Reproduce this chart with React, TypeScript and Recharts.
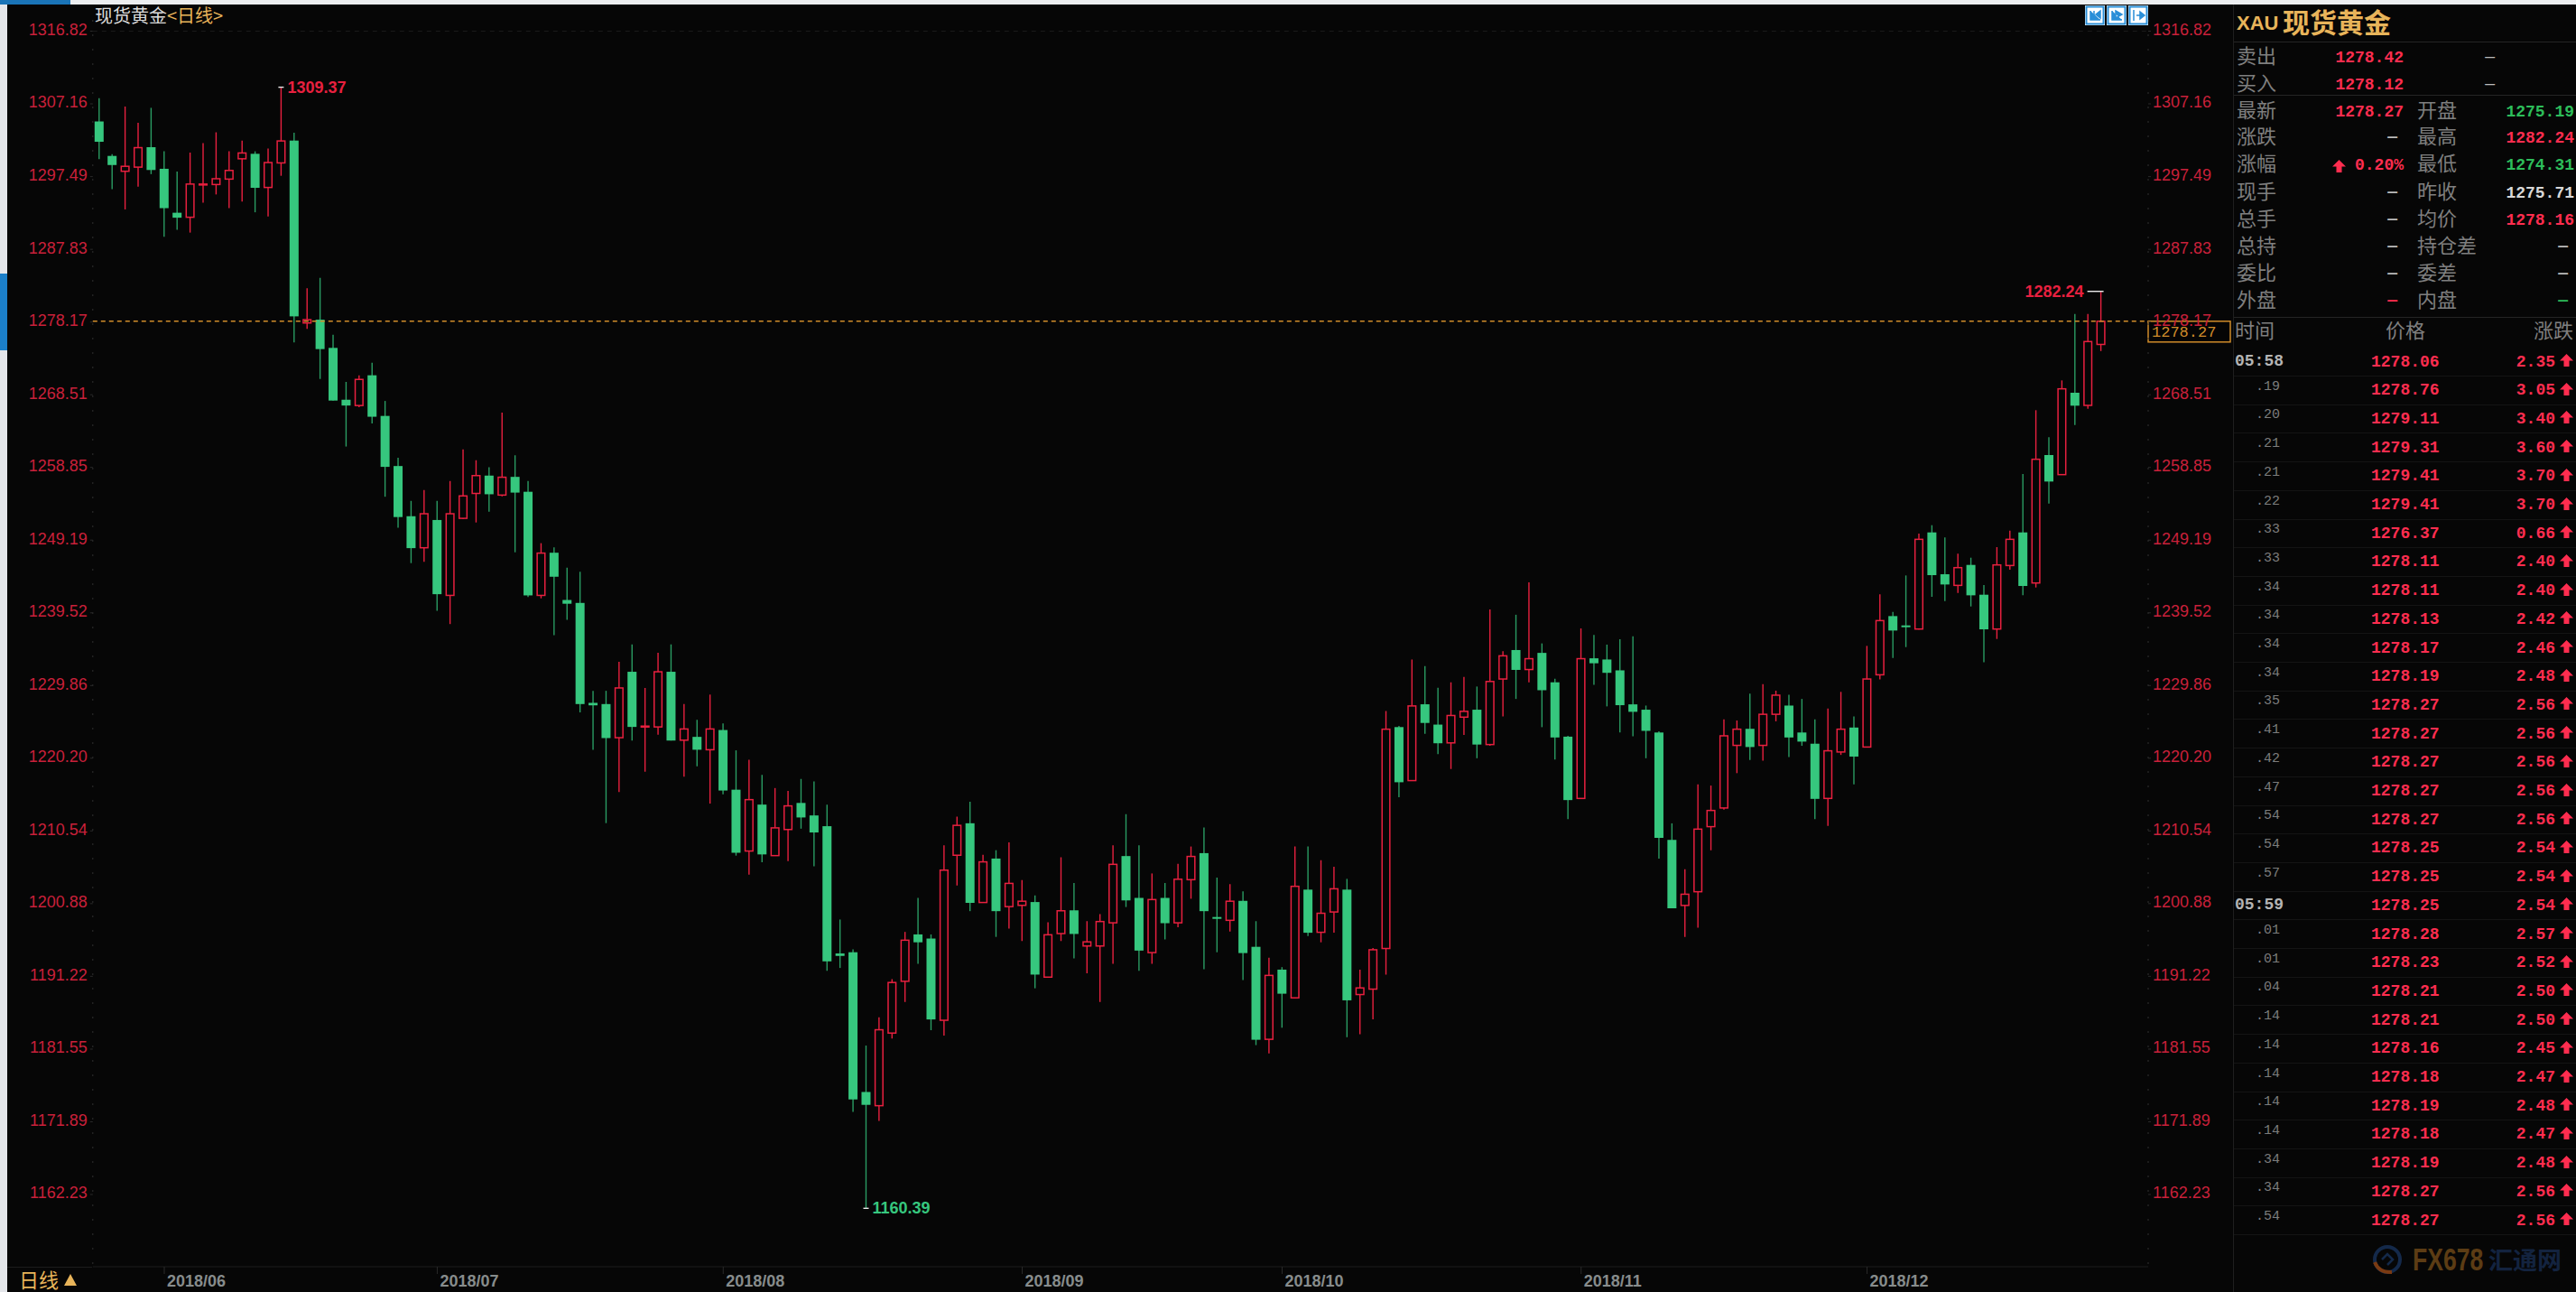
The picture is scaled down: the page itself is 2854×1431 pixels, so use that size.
import { Bar, ComposedChart, Line, ReferenceLine, XAxis, YAxis } from "recharts";

const dates = [
  "2018/05/25", "2018/05/28", "2018/05/29", "2018/05/30", "2018/05/31",
  "2018/06/01", "2018/06/04", "2018/06/05", "2018/06/06", "2018/06/07", "2018/06/08", "2018/06/11", "2018/06/12", "2018/06/13", "2018/06/14", "2018/06/15",
  "2018/06/18", "2018/06/19", "2018/06/20", "2018/06/21", "2018/06/22", "2018/06/25", "2018/06/26", "2018/06/27", "2018/06/28", "2018/06/29",
  "2018/07/02", "2018/07/03", "2018/07/04", "2018/07/05", "2018/07/06", "2018/07/09", "2018/07/10", "2018/07/11", "2018/07/12", "2018/07/13", "2018/07/16",
  "2018/07/17", "2018/07/18", "2018/07/19", "2018/07/20", "2018/07/23", "2018/07/24", "2018/07/25", "2018/07/26", "2018/07/27", "2018/07/30", "2018/07/31",
  "2018/08/01", "2018/08/02", "2018/08/03", "2018/08/06", "2018/08/07", "2018/08/08", "2018/08/09", "2018/08/10", "2018/08/13", "2018/08/14", "2018/08/15", "2018/08/16",
  "2018/08/17", "2018/08/20", "2018/08/21", "2018/08/22", "2018/08/23", "2018/08/24", "2018/08/27", "2018/08/28", "2018/08/29", "2018/08/30", "2018/08/31",
  "2018/09/03", "2018/09/04", "2018/09/05", "2018/09/06", "2018/09/07", "2018/09/10", "2018/09/11", "2018/09/12", "2018/09/13", "2018/09/14",
  "2018/09/17", "2018/09/18", "2018/09/19", "2018/09/20", "2018/09/21", "2018/09/24", "2018/09/25", "2018/09/26", "2018/09/27", "2018/09/28",
  "2018/10/01", "2018/10/02", "2018/10/03", "2018/10/04", "2018/10/05", "2018/10/08", "2018/10/09", "2018/10/10", "2018/10/11", "2018/10/12", "2018/10/15", "2018/10/16",
  "2018/10/17", "2018/10/18", "2018/10/19", "2018/10/22", "2018/10/23", "2018/10/24", "2018/10/25", "2018/10/26", "2018/10/29", "2018/10/30", "2018/10/31",
  "2018/11/01", "2018/11/02", "2018/11/05", "2018/11/06", "2018/11/07", "2018/11/08", "2018/11/09", "2018/11/12", "2018/11/13", "2018/11/14", "2018/11/15",
  "2018/11/16", "2018/11/19", "2018/11/20", "2018/11/21", "2018/11/22", "2018/11/23", "2018/11/26", "2018/11/27", "2018/11/28", "2018/11/29", "2018/11/30",
  "2018/12/03", "2018/12/04", "2018/12/05", "2018/12/06", "2018/12/07", "2018/12/10", "2018/12/11", "2018/12/12", "2018/12/13", "2018/12/14",
  "2018/12/17", "2018/12/18", "2018/12/19", "2018/12/20", "2018/12/21", "2018/12/24", "2018/12/25", "2018/12/26", "2018/12/27",
];

const opens = [
  1304.82, 1300.24, 1298.2, 1298.75, 1301.4, 1298.53, 1292.69, 1292.09, 1296.44, 1296.44, 1297.16, 1299.86, 1300.52, 1296.05, 1299.31, 1302.28,
  1278.04, 1278.48, 1274.73, 1267.84, 1267.07, 1271.09, 1265.69, 1259.03, 1252.36, 1248.17, 1251.86, 1241.84, 1252.08, 1255.39, 1257.76, 1255.17,
  1257.59, 1255.61, 1241.84, 1247.51, 1241.23, 1240.84, 1227.56, 1227.4, 1222.93, 1231.69, 1224.36, 1224.36, 1231.69, 1222.6, 1223.04, 1221.33,
  1223.95, 1216.02, 1207.87, 1214.04, 1207.26, 1210.73, 1214.26, 1212.6, 1211.17, 1194.26, 1194.42, 1175.85, 1174.03, 1183.68, 1190.56, 1196.79,
  1196.24, 1185.38, 1207.31, 1211.56, 1201.03, 1206.87, 1200.48, 1200.65, 1201.09, 1191.11, 1196.9, 1199.99, 1195.25, 1195.25, 1198.33, 1207.2,
  1201.64, 1194.37, 1201.64, 1198.33, 1204.06, 1207.59, 1199.1, 1198.66, 1201.25, 1195.14, 1182.85, 1192.11, 1188.36, 1202.74, 1197.07, 1199.77,
  1202.74, 1188.8, 1189.52, 1194.92, 1224.34, 1217.23, 1227.37, 1224.67, 1222.24, 1225.66, 1226.65, 1222.02, 1230.73, 1234.58, 1231.99, 1234.2,
  1230.29, 1223.07, 1214.86, 1233.48, 1233.32, 1231.88, 1227.36, 1226.65, 1223.62, 1209.35, 1200.64, 1202.46, 1211.11, 1213.59, 1221.91, 1224.11,
  1221.91, 1226.04, 1227.2, 1223.62, 1222.13, 1214.86, 1221.03, 1224.28, 1221.69, 1231.29, 1239.09, 1237.85, 1237.37, 1250.21, 1244.65, 1243.17,
  1245.89, 1241.93, 1237.37, 1245.81, 1250.21, 1243.49, 1260.49, 1257.89, 1268.77, 1267.09, 1275.19,
];
const highs = [
  1307.9, 1300.46, 1306.8, 1304.65, 1306.63, 1300.85, 1298.15, 1300.68, 1301.95, 1303.38, 1300.85, 1302.28, 1300.85, 1301.23, 1309.37, 1303.33,
  1282.67, 1284.04, 1276.49, 1270.21, 1271.09, 1272.75, 1267.68, 1260.13, 1254.4, 1255.83, 1254.4, 1257.04, 1261.23, 1259.8, 1258.86, 1266.14,
  1260.46, 1257.04, 1248.78, 1248.23, 1245.53, 1244.98, 1229.16, 1229.16, 1233.02, 1235.33, 1229.54, 1234.23, 1235.33, 1227.4, 1225.3, 1228.66,
  1224.84, 1221.25, 1219.99, 1218, 1216.24, 1215.85, 1217.45, 1217.12, 1214.04, 1198.77, 1194.81, 1182.02, 1185.77, 1190.84, 1197.12, 1201.64,
  1196.79, 1208.64, 1212.44, 1214.42, 1207.37, 1207.98, 1209.02, 1204.01, 1201.97, 1198.39, 1207.04, 1203.62, 1198.55, 1199.49, 1208.64, 1212.77,
  1208.64, 1204.89, 1203.62, 1206.16, 1208.47, 1211.01, 1204.34, 1203.46, 1202.52, 1198.55, 1193.7, 1192.44, 1208.47, 1208.47, 1206.65, 1205.77,
  1204.17, 1192.11, 1194.97, 1226.49, 1224.51, 1233.32, 1232.44, 1229.57, 1230.29, 1231, 1229.73, 1239.98, 1234.42, 1239.27, 1243.56, 1235.46,
  1230.78, 1223.18, 1237.45, 1236.57, 1235.3, 1236.02, 1236.4, 1227.2, 1223.78, 1211.55, 1205.44, 1216.73, 1216.57, 1225.38, 1225.22, 1228.8,
  1230.06, 1229.18, 1228.63, 1228.08, 1225.38, 1226.81, 1229.02, 1225.77, 1235.13, 1241.97, 1239.65, 1244.49, 1250.05, 1251.17, 1249.53, 1247.37,
  1246.85, 1243.21, 1248.25, 1250.45, 1257.97, 1266.45, 1262.85, 1270.41, 1279.25, 1279.25, 1282.24,
];
const lows = [
  1299.8, 1295.83, 1293.13, 1296.16, 1297.82, 1289.5, 1290.43, 1290.05, 1294.02, 1295.12, 1293.3, 1294.18, 1292.75, 1292.2, 1297.6, 1275.45,
  1277.27, 1270.6, 1267.73, 1261.62, 1266.85, 1264.7, 1254.95, 1250.82, 1246.13, 1246.3, 1239.8, 1238.03, 1251.97, 1251.53, 1252.97, 1255.01,
  1247.57, 1241.62, 1241.45, 1236.55, 1238.59, 1226.29, 1221.33, 1211.58, 1215.71, 1222.55, 1218.41, 1223.32, 1222.55, 1217.75, 1219.13, 1214.17,
  1215.4, 1207.26, 1204.72, 1206.38, 1207.26, 1206.54, 1210.84, 1205.83, 1191.94, 1192.33, 1173.21, 1160.39, 1172, 1182.96, 1187.81, 1192.88,
  1184.06, 1183.35, 1203.29, 1199.88, 1200.98, 1196.46, 1197.56, 1195.91, 1189.63, 1191.06, 1195.91, 1193.59, 1191.61, 1187.81, 1192.88, 1200.43,
  1191.94, 1192.88, 1196.13, 1197.73, 1201.53, 1192.16, 1194.42, 1197.18, 1190.73, 1182.08, 1180.98, 1184.39, 1188.3, 1196.57, 1195.74, 1197.01,
  1183.13, 1183.51, 1185.49, 1191.45, 1215.03, 1217.18, 1223.46, 1220.76, 1218.77, 1223.29, 1220.2, 1221.85, 1225.77, 1228.08, 1230.29, 1224.33,
  1220.04, 1212.1, 1214.8, 1229.95, 1227.09, 1223.62, 1223.12, 1220.2, 1206.87, 1200.26, 1196.45, 1197.67, 1207.97, 1213.37, 1218.22, 1219.98,
  1219.87, 1225.11, 1220.37, 1221.85, 1212.1, 1211.22, 1220.64, 1216.73, 1221.65, 1230.69, 1233.53, 1234.97, 1237.3, 1241.65, 1241.09, 1242.17,
  1240.37, 1232.97, 1236.05, 1245.25, 1241.85, 1242.89, 1254.05, 1257.85, 1264.49, 1266.65, 1274.31,
];
const closes = [
  1302.12, 1299.03, 1298.86, 1301.34, 1298.37, 1293.3, 1292.03, 1296.5, 1296.5, 1297.21, 1298.31, 1300.63, 1296, 1299.36, 1302.23, 1278.92,
  1278.48, 1274.57, 1267.73, 1267.07, 1270.54, 1265.58, 1258.92, 1252.25, 1248.12, 1252.69, 1242, 1252.69, 1255.06, 1257.76, 1255.28, 1257.54,
  1255.5, 1241.84, 1247.46, 1244.32, 1240.73, 1227.4, 1227.23, 1222.88, 1229.54, 1224.36, 1224.47, 1231.69, 1222.55, 1224.09, 1221.33, 1224.09,
  1215.91, 1207.64, 1214.7, 1207.42, 1210.95, 1213.87, 1212.33, 1210.34, 1193.21, 1193.93, 1174.86, 1174.14, 1184.12, 1190.4, 1196.02, 1195.74,
  1185.49, 1205.33, 1211.28, 1200.98, 1206.43, 1199.88, 1203.57, 1201.2, 1191.45, 1196.74, 1199.93, 1196.85, 1195.8, 1198.5, 1206.1, 1201.31,
  1194.64, 1201.42, 1198.28, 1204.12, 1207.15, 1199.88, 1198.99, 1201.2, 1194.31, 1182.79, 1191.34, 1188.91, 1203.18, 1197.01, 1199.6, 1202.85,
  1188.03, 1189.68, 1194.75, 1224.06, 1217.01, 1227.15, 1224.89, 1222.19, 1225.88, 1226.43, 1222.02, 1230.4, 1233.81, 1231.94, 1233.43, 1229.24,
  1222.96, 1214.64, 1233.43, 1232.82, 1231.55, 1227.25, 1226.37, 1223.84, 1209.62, 1200.26, 1202.13, 1210.78, 1213.26, 1223.18, 1224.06, 1221.69,
  1226.04, 1228.58, 1222.96, 1222.41, 1214.8, 1221.19, 1224.06, 1220.42, 1230.73, 1238.49, 1237.17, 1237.69, 1249.29, 1244.53, 1243.29, 1245.53,
  1241.85, 1237.33, 1245.89, 1249.29, 1243.09, 1259.93, 1256.97, 1269.29, 1267.05, 1275.57, 1278.27,
];

const priceTicks = [
  1316.82, 1307.16, 1297.49, 1287.83, 1278.17, 1268.51, 1258.85, 1249.19, 1239.52, 1229.86, 1220.2, 1210.54, 1200.88, 1191.22, 1181.55, 1171.89, 1162.23,
];
const monthTicks = ["2018/06/01", "2018/07/02", "2018/08/01", "2018/09/03", "2018/10/01", "2018/11/01", "2018/12/03"];
const lastPrice = 1278.27;

// highest / lowest of the window, labelled on the candle
const extremes = [
  { index: 14, edge: "high", side: "right" },
  { index: 59, edge: "low", side: "right" },
  { index: 154, edge: "high", side: "left" },
];

const quoteRows = [
  ["最新", "1278.27", "开盘", "1275.19", "#2dbd5a"],
  ["涨跌", "—", "最高", "1282.24", "#ff2d4f"],
  ["涨幅", "0.20%", "最低", "1274.31", "#2dbd5a"],
  ["现手", "—", "昨收", "1275.71", "#d8d8d8"],
  ["总手", "—", "均价", "1278.16", "#ff2d4f"],
  ["总持", "—", "持仓差", "—", "#bbbbbb"],
  ["委比", "—", "委差", "—", "#bbbbbb"],
  ["外盘", "—", "内盘", "—", "#2dbd5a"],
];
const quoteRowY = [123, 152, 182, 213, 243, 273, 303, 333];

const tickTimes = [
  "05:58", ".19", ".20", ".21", ".21", ".22", ".33", ".33", ".34", ".34", ".34", ".34", ".35", ".41", ".42", ".47", ".54", ".54", ".57",
  "05:59", ".01", ".01", ".04", ".14", ".14", ".14", ".14", ".14", ".34", ".34", ".54",
];
const tickPrices = [
  "1278.06", "1278.76", "1279.11", "1279.31", "1279.41", "1279.41", "1276.37", "1278.11", "1278.11", "1278.13", "1278.17", "1278.19", "1278.27", "1278.27", "1278.27", "1278.27",
  "1278.27", "1278.25", "1278.25", "1278.25", "1278.28", "1278.23", "1278.21", "1278.21", "1278.16", "1278.18", "1278.19", "1278.18", "1278.19", "1278.27", "1278.27",
];
const tickChanges = [
  "2.35", "3.05", "3.40", "3.60", "3.70", "3.70", "0.66", "2.40", "2.40", "2.42", "2.46", "2.48", "2.56", "2.56", "2.56", "2.56",
  "2.56", "2.54", "2.54", "2.54", "2.57", "2.52", "2.50", "2.50", "2.45", "2.47", "2.48", "2.47", "2.48", "2.56", "2.56",
];

const chartData = dates.map((date, i) => ({
  date,
  open: opens[i],
  close: closes[i],
  range: [lows[i], highs[i]],
}));

const BG = "#060606";
const UP = "#e8203f";
const DOWN = "#36c77e";
const DOWN_WICK = "#2a9c63";
const AXIS_RED = "#c9203a";
const GOLD = "#e8b45a";
const ORANGE = "#d08c2a";
const PANEL_RED = "#ff2d4f";
const CJK = '"Noto Sans CJK SC", sans-serif';
const MONO = '"Liberation Mono", monospace';
const SANS = '"Liberation Sans", Arial, sans-serif';
const BTN_BLUE = "#2a8fd8";

function Candle(props: any) {
  const { x, y, width, height, payload, index } = props;
  const [low, high] = payload.range;
  const cx = x + width / 2;
  const at = (v: number) => y + ((high - v) / (high - low)) * height;
  const isUp = payload.close >= payload.open;
  const top = at(Math.max(payload.open, payload.close));
  const bottom = at(Math.min(payload.open, payload.close));
  const mark = extremes.find((e) => e.index === index);
  const markY = mark ? at(mark.edge === "high" ? high : low) : 0;

  return (
    <g>
      <line x1={cx} x2={cx} y1={y} y2={y + height} stroke={isUp ? UP : DOWN_WICK} strokeWidth={1.4} />
      {isUp ? (
        <rect x={cx - 4.3} y={top} width={8.6} height={Math.max(bottom - top, 1)} fill={BG} stroke={UP} strokeWidth={1.5} />
      ) : (
        <rect x={cx - 5} y={top} width={10} height={Math.max(bottom - top, 2)} fill={DOWN} />
      )}
      {mark && (
        <g>
          <line
            x1={mark.side === "right" ? cx - 3 : cx - 15}
            x2={cx + 3}
            y1={markY}
            y2={markY}
            stroke="#e8e8e8"
            strokeWidth={1.4}
          />
          <text
            x={mark.side === "right" ? cx + 7 : cx - 19}
            y={markY + 6}
            textAnchor={mark.side === "right" ? "start" : "end"}
            fontFamily={SANS}
            fontSize={18}
            fontWeight="bold"
            fill={isUp ? UP : DOWN}
          >
            {(mark.edge === "high" ? high : low).toFixed(2)}
          </text>
        </g>
      )}
    </g>
  );
}

function MonthTick(props: any) {
  const { x, y, payload } = props;
  return (
    <text x={x + 3} y={y + 12} fontFamily={SANS} fontSize={18} fontWeight="bold" fill="#878c8c">
      {payload.value.slice(0, 7)}
    </text>
  );
}

function LastPriceTag(props: any) {
  const { viewBox } = props;
  const left = viewBox.x + viewBox.width;
  return (
    <g>
      <rect x={left} y={viewBox.y} width={91} height={23} fill="#050505" stroke={ORANGE} strokeWidth={1.5} />
      <text x={left + 4} y={viewBox.y + 17} fontFamily={MONO} fontSize={17} fill={ORANGE}>
        {lastPrice.toFixed(2)}
      </text>
    </g>
  );
}

function UpArrow({ x, y }: { x: number; y: number }) {
  return (
    <svg style={{ position: "absolute", left: x, top: y - 7 }} width={15} height={14} viewBox="0 0 15 14">
      <polygon points="7.5,0 15,7.5 10.5,7.5 10.5,14 4.5,14 4.5,7.5 0,7.5" fill={PANEL_RED} />
    </svg>
  );
}

function Txt(props: any) {
  const { x, right, y, size = 18, color, font = MONO, bold = false, children } = props;
  const box = Math.round(size * 1.3);
  return (
    <div
      style={{
        position: "absolute",
        left: x,
        right: right !== undefined ? 2854 - right : undefined,
        top: y - box / 2,
        height: box,
        lineHeight: `${box}px`,
        fontSize: size,
        color,
        fontFamily: font,
        fontWeight: bold ? "bold" : "normal",
        whiteSpace: "nowrap",
      }}
    >
      {children}
    </div>
  );
}

function HLine({ y, color = "#1c1c1c" }: { y: number; color?: string }) {
  return <div style={{ position: "absolute", left: 2475, width: 379, top: y, height: 1, background: color }} />;
}

function SidePanel() {
  const rowY = (i: number) => 400 + i * 31.7;
  return (
    <>
      <div style={{ position: "absolute", left: 2474, top: 5, width: 1, height: 1426, background: "#1e1e1e" }} />
      <Txt x={2478} y={25} size={22} color={GOLD} font={SANS} bold>XAU</Txt>
      <Txt x={2529} y={23} size={30} color={GOLD} font={CJK} bold>现货黄金</Txt>
      <HLine y={46} color="#242424" />
      <Txt x={2478} y={60} size={22} color="#7f7f7f" font={CJK}>卖出</Txt>
      <Txt right={2663} y={64} color={PANEL_RED} bold>1278.42</Txt>
      <Txt right={2764} y={63} color="#bbbbbb">—</Txt>
      <Txt x={2478} y={90} size={22} color="#7f7f7f" font={CJK}>买入</Txt>
      <Txt right={2663} y={94} color={PANEL_RED} bold>1278.12</Txt>
      <Txt right={2764} y={93} color="#bbbbbb">—</Txt>
      <HLine y={105} color="#242424" />

      {quoteRows.map((row, i) => (
        <div key={row[0]}>
          <Txt x={2478} y={quoteRowY[i] - 3} size={22} color="#7f7f7f" font={CJK}>{row[0]}</Txt>
          <Txt right={row[1] === "—" ? 2656 : 2663} y={quoteRowY[i] + (row[1] === "—" ? 0 : 1)} color={row[1] === "—" ? (row[0] === "外盘" ? PANEL_RED : "#bbbbbb") : PANEL_RED} bold>
            {row[1]}
          </Txt>
          <Txt x={2678} y={quoteRowY[i] - 3} size={22} color="#7f7f7f" font={CJK}>{row[2]}</Txt>
          <Txt right={row[3] === "—" ? 2845 : 2852} y={quoteRowY[i] + (row[3] === "—" ? 0 : 1)} color={row[4]} bold>
            {row[3]}
          </Txt>
        </div>
      ))}
      <UpArrow x={2584} y={184} />
      <HLine y={351} color="#242424" />

      <Txt x={2476} y={364} size={22} color="#7f7f7f" font={CJK}>时间</Txt>
      <Txt x={2643} y={364} size={22} color="#7f7f7f" font={CJK}>价格</Txt>
      <Txt right={2851} y={364} size={22} color="#7f7f7f" font={CJK}>涨跌</Txt>

      {tickTimes.map((t, i) => (
        <div key={i}>
          {t.includes(":") ? (
            <Txt x={2476} y={rowY(i)} color="#b4b4b4" bold>{t}</Txt>
          ) : (
            <Txt right={2526} y={rowY(i) - 3} size={15} color="#7c7c7c">{t}</Txt>
          )}
          <Txt x={2627} y={rowY(i) + 1} color={PANEL_RED} bold>{tickPrices[i]}</Txt>
          <Txt right={2831} y={rowY(i) + 1} color={PANEL_RED} bold>{tickChanges[i]}</Txt>
          <UpArrow x={2836} y={rowY(i) - 1} />
          <HLine y={Math.round(rowY(i) + 16)} color="#141414" />
        </div>
      ))}

      <svg style={{ position: "absolute", left: 2628, top: 1378 }} width={34} height={34} viewBox="0 0 34 34">
        <circle cx={17} cy={17} r={14} fill="none" stroke="#14294a" strokeWidth={4} />
        <path d="M3 20 Q8 32 22 31" fill="none" stroke="#7a3a12" strokeWidth={4} />
        <path d="M11 17 L17 11 L23 17 L17 23" fill="none" stroke="#14294a" strokeWidth={2.5} />
      </svg>
      <div
        style={{
          position: "absolute",
          left: 2673,
          top: 1374,
          height: 42,
          lineHeight: "42px",
          fontSize: 35,
          fontFamily: SANS,
          fontWeight: "bold",
          color: "#5c3c14",
          transform: "scaleX(0.76)",
          transformOrigin: "left center",
          whiteSpace: "nowrap",
        }}
      >
        FX678
      </div>
      <Txt x={2757} y={1394} size={27} color="#13233f" font={CJK} bold>汇通网</Txt>
    </>
  );
}

const buttonIcons = [
  "M5 4 V14 H16 M9 4 V12 M16 4 L11 8 L16 12 Z",
  "M5 4 V14 H16 M9 4 L16 8 L9 12 Z",
  "M5 3 V15 M8 9 H13 M12 5 L17 9 L12 13 Z",
];

function Chrome() {
  return (
    <>
      <div style={{ position: "absolute", left: 0, top: 0, width: 2854, height: 5, background: "#eceef0" }} />
      <div style={{ position: "absolute", left: 0, top: 0, width: 78, height: 5, background: "#1a74b8" }} />
      <div style={{ position: "absolute", left: 0, top: 5, width: 8, height: 1426, background: "#e4e6ea" }} />
      <div style={{ position: "absolute", left: 0, top: 303, width: 8, height: 85, background: "#1b7fc9" }} />
      <div style={{ position: "absolute", left: 8, top: 1403, width: 94, height: 1, background: "#1c1c1c" }} />
      <Txt x={21} y={1416} size={22} color={GOLD} font={CJK}>日线</Txt>
      <svg style={{ position: "absolute", left: 71, top: 1411 }} width={14} height={13} viewBox="0 0 14 13">
        <polygon points="7,0 14,13 0,13" fill={GOLD} />
      </svg>
      <Txt x={105} y={17} size={20} color="#dcdcdc" font={CJK}>
        现货黄金<span style={{ color: GOLD }}>&lt;日线&gt;</span>
      </Txt>
      {[2310, 2334, 2358].map((left, i) => (
        <svg key={left} style={{ position: "absolute", left, top: 6 }} width={22} height={22} viewBox="0 0 22 22">
          <rect x={0} y={0} width={22} height={22} fill="#ffffff" />
          <rect x={1.5} y={1.5} width={19} height={19} fill="#ffffff" stroke={BTN_BLUE} strokeWidth={2} />
          <path d={buttonIcons[i]} fill={BTN_BLUE} stroke={BTN_BLUE} strokeWidth={1.5} transform="translate(1 2)" />
        </svg>
      ))}
    </>
  );
}

export default function App() {
  return (
    <div style={{ position: "absolute", left: 0, top: 0, width: 2854, height: 1431, background: BG, overflow: "hidden" }}>
      <div style={{ position: "absolute", left: 0, top: 0 }}>
        <ComposedChart width={2474} height={1431} data={chartData} margin={{ top: 22, right: 0, bottom: 0, left: 0 }}>
          <XAxis
            dataKey="date"
            allowDuplicatedCategory={false}
            ticks={monthTicks}
            interval={0}
            height={28}
            padding={{ left: 0, right: 45 }}
            tick={<MonthTick />}
            tickSize={8}
            tickLine={{ stroke: "#2a2a2a" }}
            axisLine={{ stroke: "#1c1c1c" }}
          />
          <YAxis
            yAxisId="left"
            width={102.8}
            domain={[1152.63, 1318.32]}
            ticks={priceTicks}
            interval={0}
            tickFormatter={(v: number) => v.toFixed(2)}
            tick={{ fill: AXIS_RED, fontSize: 18, fontFamily: SANS, dy: -2 }}
            tickSize={3}
            tickMargin={3}
            tickLine={{ stroke: "#2a2a2a" }}
            axisLine={{ stroke: "#303030", strokeDasharray: "2 14" }}
          />
          <YAxis
            yAxisId="right"
            orientation="right"
            width={94}
            domain={[1152.63, 1318.32]}
            ticks={priceTicks}
            interval={0}
            tickFormatter={(v: number) => v.toFixed(2)}
            tick={{ fill: AXIS_RED, fontSize: 18, fontFamily: SANS, dy: -2 }}
            tickSize={3}
            tickMargin={2}
            tickLine={{ stroke: "#2a2a2a" }}
            axisLine={{ stroke: "#303030", strokeDasharray: "2 14" }}
          />
          <ReferenceLine yAxisId="left" y={1316.82} stroke="#1a1a1a" strokeDasharray="5 5" />
          <Bar yAxisId="left" dataKey="range" barSize={10} shape={<Candle />} isAnimationActive={false} />
          {/* keeps the right price axis tied to a series */}
          <Line yAxisId="right" dataKey="close" stroke="none" dot={false} activeDot={false} isAnimationActive={false} />
          <ReferenceLine
            yAxisId="left"
            y={lastPrice}
            stroke={ORANGE}
            strokeWidth={1.6}
            strokeDasharray="5 4"
            label={<LastPriceTag />}
          />
        </ComposedChart>
      </div>
      <Chrome />
      <SidePanel />
    </div>
  );
}
